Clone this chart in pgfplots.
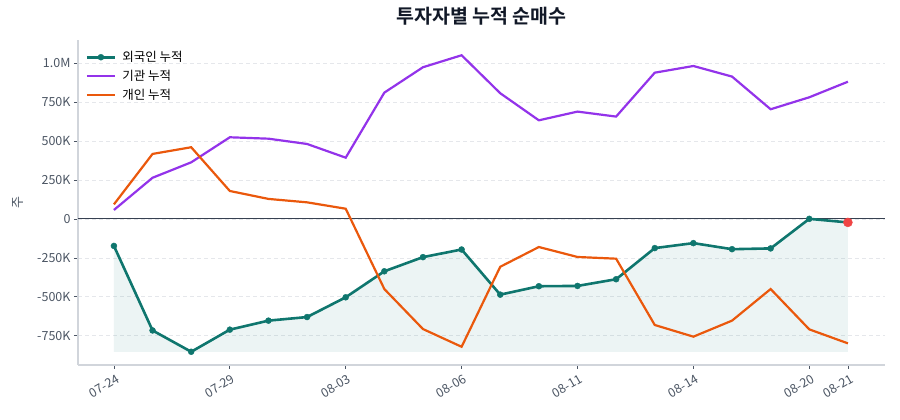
\documentclass[border=0pt]{standalone}
\usepackage{fontspec}
\setmainfont{Noto Sans CJK KR}[BoldFont={Noto Sans CJK KR Bold}]
\usepackage{pgfplots}
\usepackage{pgfplotstable}
\pgfplotsset{compat=1.18}
\definecolor{fgn}{HTML}{0F766E}
\definecolor{ins}{HTML}{9333EA}
\definecolor{ind}{HTML}{EA580C}
\definecolor{lastdot}{HTML}{EF4444}
\definecolor{spine}{HTML}{D1D5DB}
\definecolor{gridc}{HTML}{E5E7EB}
\definecolor{zeroc}{HTML}{374151}
\definecolor{tickc}{HTML}{4B5563}
\definecolor{titlec}{HTML}{111827}

% cumulative net buying, thousands of shares
\pgfplotstableread{
i foreign inst indiv
0  -173   58    94
1  -716  265   418
2  -853  364   461
3  -711  525   180
4  -653  516   129
5  -630  482   107
6  -503  394    66
7  -336  812  -450
8  -245  975  -707
9  -196 1052  -821
10 -486  808  -307
11 -432  634  -180
12 -430  690  -244
13 -387  658  -255
14 -187  940  -681
15 -155  983  -756
16 -194  915  -653
17 -189  705  -450
18    1  782  -709
19  -22  882  -799
}\flows

\begin{document}
\begin{tikzpicture}
\begin{axis}[
  at={(0,0)}, anchor=south west,
  scale only axis, width=807pt, height=325pt,
  xmin=-0.93, xmax=19.96, ymin=-938, ymax=1150,
  axis x line*=bottom, axis y line*=left,
  axis line style={color=spine, line width=1.2pt, -},
  tick align=outside, major tick length=4pt,
  tick style={color=tickc, line width=0.7pt},
  xtick={0,3,6,9,12,15,18,19},
  xticklabels={07-24,07-29,08-03,08-06,08-11,08-14,08-20,08-21},
  xticklabel style={rotate=30, anchor=north east, font=\fontsize{12.5}{14}\selectfont, text=tickc, inner sep=1pt, yshift=-4pt},
  ytick={-750,-500,-250,0,250,500,750,1000},
  yticklabels={-750K,-500K,-250K,0,250K,500K,750K,1.0M},
  yticklabel style={font=\fontsize{12.5}{14}\selectfont, text=tickc},
  ymajorgrids, grid style={color=gridc, line width=0.7pt, dash pattern=on 4pt off 3pt},
  ylabel={주},
  ylabel style={at={(axis description cs:-0.074,0.5)}, anchor=center, font=\fontsize{13}{15}\selectfont, text=tickc},
  title={\bfseries 투자자별 누적 순매수},
  title style={at={(axis description cs:0.5,1)}, anchor=center, yshift=18pt, font=\fontsize{19.5}{22}\selectfont, text=titlec},
  legend style={at={(axis description cs:0.008,0.975)}, anchor=north west, draw=none, fill=none,
    font=\fontsize{12.5}{14}\selectfont, row sep=3pt, column sep=4pt, inner sep=1pt},
  legend cell align=left,
  legend image code/.code={\draw[mark repeat=2, mark phase=2] plot coordinates {(0pt,0pt) (14pt,0pt) (28pt,0pt)};},
]
\addplot[forget plot, draw=none, fill=fgn, fill opacity=0.08] coordinates {
(0,-173) (1,-716) (2,-853) (3,-711) (4,-653) (5,-630) (6,-503) (7,-336) (8,-245) (9,-196)
(10,-486) (11,-432) (12,-430) (13,-387) (14,-187) (15,-155) (16,-194) (17,-189) (18,1) (19,-22)
(19,-853) (0,-853)};
\draw[zeroc, line width=1pt] (axis cs:-0.93,0) -- (axis cs:19.96,0);
\addplot[color=fgn, line width=2.6pt, mark=*, mark size=3pt, mark options={solid, fill=fgn, draw=fgn, line width=0.4pt}]
  table[x=i, y=foreign] {\flows};
\addlegendentry{외국인 누적}
\addplot[color=ins, line width=2.2pt, no marks] table[x=i, y=inst] {\flows};
\addlegendentry{기관 누적}
\addplot[color=ind, line width=2.2pt, no marks] table[x=i, y=indiv] {\flows};
\addlegendentry{개인 누적}
\addplot[forget plot, only marks, mark=*, mark size=4.5pt, color=lastdot, mark options={solid, line width=0.4pt}]
  coordinates {(19,-22)};
\end{axis}
\path[use as bounding box] (-78pt,-55pt) rectangle (822pt,365pt);
\end{tikzpicture}
\end{document}
